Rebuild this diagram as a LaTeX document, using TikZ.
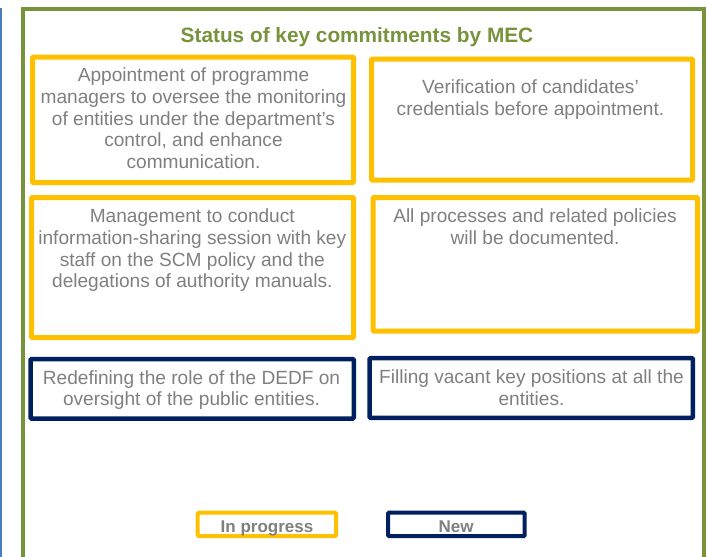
\documentclass[tikz,border=0pt]{standalone}
\usepackage{fontspec}
\setmainfont{Liberation Sans}
\definecolor{ygold}{HTML}{FFC000}
\definecolor{navyb}{HTML}{002060}
\definecolor{frgreen}{HTML}{77933C}
\definecolor{lblue}{HTML}{4A7EBB}
\definecolor{txtgray}{HTML}{7F7F7F}
\tikzset{
  ybox/.style={draw=ygold, line width=5pt, rounded corners=1pt, inner sep=0pt},
  nbox/.style={draw=navyb, line width=4.5pt, rounded corners=1pt, inner sep=0pt},
  ylegend/.style={draw=ygold, line width=4pt, rounded corners=1pt, inner sep=0pt},
  nlegend/.style={draw=navyb, line width=4pt, rounded corners=1pt, inner sep=0pt},
  btxt/.style={text=txtgray, align=center, inner sep=0pt, anchor=north,
    font=\fontsize{19.1}{21.7}\selectfont},
  ltxt/.style={text=txtgray, inner sep=0pt, anchor=base,
    font=\fontsize{17}{20}\selectfont\bfseries},
  ttl/.style={text=frgreen, inner sep=0pt, anchor=base,
    font=\fontsize{20.8}{24}\selectfont\bfseries},
}
\begin{document}
\begin{tikzpicture}[x=1pt,y=-1pt]
\useasboundingbox (0,0) rectangle (707,557);
% left blue rule
\draw[lblue, line width=2pt] (1,7.5) -- (1,557);
% green frame (open at bottom)
\draw[frgreen, line width=3.6pt] (23,557) -- (23,8.7) -- (703.7,8.7) -- (703.7,557);
% title
\node[ttl] (title) at (357,42.3) {Status of key commitments by MEC};
% yellow boxes
\node[ybox, minimum width=321pt, minimum height=125.5pt] (b1) at (193,119.75) {};
\node[ybox, minimum width=321pt, minimum height=121.2pt] (b2) at (532,119.6) {};
\node[ybox, minimum width=322pt, minimum height=140pt] (b3) at (192.5,267.5) {};
\node[ybox, minimum width=324.5pt, minimum height=133.5pt] (b4) at (535.25,264.25) {};
% navy boxes
\node[nbox, minimum width=323.3pt, minimum height=59.5pt] (b5) at (192.15,388.75) {};
\node[nbox, minimum width=323.3pt, minimum height=59.6pt] (b6) at (531.15,388) {};
% texts
\node[btxt] (t1) at (193.5,66.5) {\strut Appointment of programme\\managers to oversee the monitoring\\of entities under the department’s\\control, and enhance\\communication.};
\node[btxt] (t2) at (530.5,78.1) {\strut Verification of candidates’\\credentials before appointment.};
\node[btxt] (t3) at (192.3,207.5) {\strut Management to conduct\\information-sharing session with key\\staff on the SCM policy and the\\delegations of authority manuals.};
\node[btxt] (t4) at (535,207.5) {\strut All processes and related policies\\will be documented.};
\node[btxt] (t5) at (191.5,368.8) {\strut Redefining the role of the DEDF on\\oversight of the public entities.};
\node[btxt] (t6) at (531.5,368.1) {\strut Filling vacant key positions at all the\\entities.};
% legend
\node[ylegend, minimum width=138.3pt, minimum height=23.3pt] (lg1) at (266.85,524.35) {};
\node[nlegend, minimum width=136.7pt, minimum height=23.3pt] (lg2) at (456.35,524.35) {};
\node[ltxt] (lt1) at (267,532.3) {In progress};
\node[ltxt] (lt2) at (456,532.3) {New};
\end{tikzpicture}
\end{document}
